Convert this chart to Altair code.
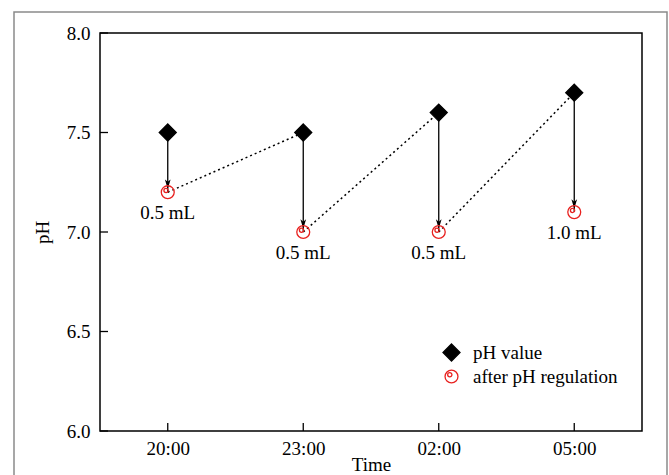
import altair as alt
import pandas as pd

times = ["20:00", "23:00", "02:00", "05:00"]
ph_before = [7.5, 7.5, 7.6, 7.7]
ph_after = [7.2, 7.0, 7.0, 7.1]
doses = ["0.5 mL", "0.5 mL", "0.5 mL", "1.0 mL"]
y_ticks = [6.0, 6.5, 7.0, 7.5, 8.0]
series_names = ["pH value", "after pH regulation"]

FONT = "Liberation Serif"
FS = 19
W, H = 542, 398

DIAMOND_PATH = "M0,-1L1,0L0,1L-1,0Z"
CIRCLE_PATH = ("M0.76,0A0.76,0.76,0,1,1,-0.76,0A0.76,0.76,0,1,1,0.76,0Z"
               "M0.05,-0.2A0.25,0.25,0,1,1,-0.45,-0.2A0.25,0.25,0,1,1,0.05,-0.2Z")
ARROW_PATH = "M0,1L-0.6,-1L0,-0.5L0.6,-1Z"

pairs = pd.DataFrame({"time": times, "before": ph_before, "after": ph_after, "dose": doses})
long_rows = []
for t, b, a in zip(times, ph_before, ph_after):
    long_rows.append({"time": t, "ph": b, "series": series_names[0]})
    long_rows.append({"time": t, "ph": a, "series": series_names[1]})
long_df = pd.DataFrame(long_rows)
seg_df = pd.DataFrame({
    "t0": times[:-1], "y0": ph_after[:-1],
    "t1": times[1:], "y1": ph_before[1:],
})
ytick_df = pd.DataFrame({"v": y_ticks})
xtick_df = pd.DataFrame({"time": times})

xscale = alt.Scale(type="point", domain=times, padding=0.5)
yscale = alt.Scale(domain=[6, 8], nice=False)

x_axis = alt.Axis(title="Time", ticks=False, domain=False, labelAngle=0,
                  labelPadding=8, titlePadding=-3, grid=False)
x_enc = alt.X("time:N", scale=xscale, sort=times, axis=x_axis)
y_axis = alt.Axis(title="pH", ticks=False, domain=False, values=y_ticks, format=".1f",
                  labelPadding=10, titlePadding=14, grid=False)

frame = alt.Chart(alt.Data(values=[{"a": 1}])).mark_rect(
    fill="transparent", stroke="#8a8a8a", strokeWidth=1.5, clip=False
).encode(x=alt.value(-86), x2=alt.value(567), y=alt.value(-21), y2=alt.value(470))

dotted = alt.Chart(seg_df).mark_rule(strokeDash=[2, 3], strokeWidth=1.5, color="black").encode(
    x=alt.X("t0:N", scale=xscale, sort=times, axis=x_axis),
    x2="t1:N",
    y=alt.Y("y0:Q", scale=yscale, axis=y_axis),
    y2="y1:Q",
)

arrows = alt.Chart(pairs).mark_rule(color="black", strokeWidth=1.3).encode(
    x=x_enc,
    y=alt.Y("before:Q", scale=yscale, axis=y_axis),
    y2="after:Q",
)

heads = alt.Chart(pairs).mark_point(shape=ARROW_PATH, size=90, filled=True, color="black",
                                    yOffset=-8, opacity=1).encode(
    x=x_enc,
    y=alt.Y("after:Q", scale=yscale, axis=y_axis),
)

points = alt.Chart(long_df).mark_point(size=289, strokeWidth=1.3, opacity=1).encode(
    x=x_enc,
    y=alt.Y("ph:Q", scale=yscale, axis=y_axis),
    shape=alt.Shape("series:N", scale=alt.Scale(domain=series_names, range=[DIAMOND_PATH, CIRCLE_PATH]),
                    legend=alt.Legend(title=None, orient="none", legendX=342, legendY=310,
                                      labelFont=FONT, labelFontSize=FS, labelColor="black",
                                      symbolSize=289, rowPadding=3, labelOffset=12,
                                      symbolStrokeWidth=1.3)),
    fill=alt.Fill("series:N", scale=alt.Scale(domain=series_names, range=["black", "transparent"])),
    stroke=alt.Stroke("series:N", scale=alt.Scale(domain=series_names, range=["black", "#e8201e"])),
)

labels = alt.Chart(pairs).mark_text(font=FONT, fontSize=FS, color="black", dy=21).encode(
    x=x_enc,
    y=alt.Y("after:Q", scale=yscale, axis=y_axis),
    text="dose:N",
)

yticks = alt.Chart(ytick_df).mark_rule(color="black", strokeWidth=1.3).encode(
    y=alt.Y("v:Q", scale=yscale, axis=y_axis), x=alt.value(0), x2=alt.value(8))
xticks = alt.Chart(xtick_df).mark_rule(color="black", strokeWidth=1.3).encode(
    x=x_enc, y=alt.value(H), y2=alt.value(H - 8))

chart = alt.layer(frame, dotted, arrows, heads, points, labels, yticks, xticks).properties(
    width=W, height=H,
    autosize=alt.AutoSizeParams(type="none"),
    padding={"left": 100, "top": 33, "right": 27, "bottom": 44},
    background="white",
).configure_view(stroke="black", strokeWidth=1.5).configure_axis(
    labelFont=FONT, labelFontSize=FS, labelColor="black",
    titleFont=FONT, titleFontSize=FS, titleColor="black", titleFontWeight="normal",
)

chart.save("out.html", embed_options={"renderer": "svg", "actions": False})
